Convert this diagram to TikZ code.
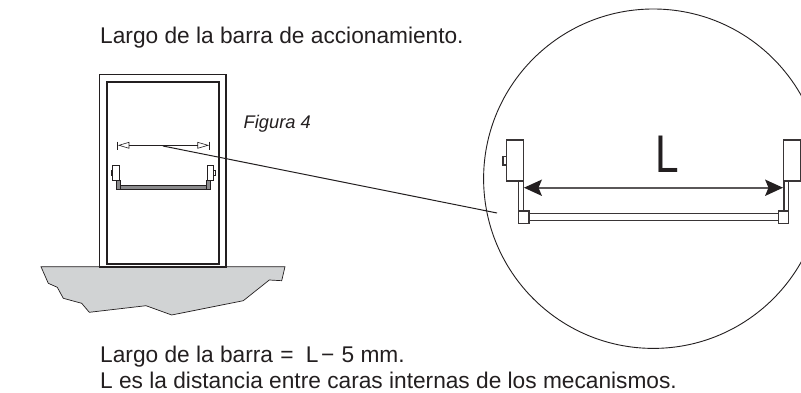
\documentclass[tikz,border=0pt]{standalone}
\usepackage{fontspec}
\setmainfont{Liberation Sans}
\definecolor{ink}{HTML}{231F20}
\definecolor{ground}{HTML}{D1D3D4}
\definecolor{barfill}{HTML}{8A8A8C}
\tikzset{
  txt/.style={anchor=base west,inner sep=0pt,text=ink,font=\fontsize{22.7}{26}\selectfont},
  part/.style={draw=ink!90,fill=white,line width=1.1pt},
  thin part/.style={draw=ink,fill=white,line width=.8pt},
  ln/.style={draw=ink,line width=.9pt}
}
\begin{document}
\begin{tikzpicture}[x=1pt,y=-1pt]
\useasboundingbox (0,0) rectangle (801,393);
\fill[white] (0,0) rectangle (801,393);
% texts
\node[txt] (title) at (100,43.3) {Largo de la barra de accionamiento.};
\node[txt,font=\fontsize{18.3}{21}\itshape\selectfont] (fig) at (243.5,128.3) {Figura 4};
\node[txt] (l1) at (100,362) {Largo de la barra\hspace{1pt} = \hspace{6pt}L\hspace{2.5pt}−\hspace{1pt} 5 mm.};
\node[txt] (l2) at (100,388.2) {L es la distancia entre caras internas de los mecanismos.};
% ground
\draw[ink,fill=ground,line width=.7pt] (41,266.7) -- (285,266.7) -- (281.7,280.7) -- (269.3,280) -- (243.3,300.7) -- (171.7,315) -- (146,305.7) -- (89.3,312.3) -- (81.7,303.3) -- (63.3,298.3) -- (57.3,287.3) -- (48.3,283.3) -- cycle;
% door
\draw[ink,fill=white,line width=1.2pt] (99.7,74.7) rectangle (226,267);
\draw[ink,fill=white,line width=1.2pt] (107,82) rectangle (219,264);
% small dimension
\draw[ln] (117.7,141.7) -- (117.7,150);
\draw[ln] (209,141.7) -- (209,150);
\draw[ln] (129,145.3) -- (197.7,145.3);
\draw[ink,line width=.6pt] (119,145.3) -- (129,142.3) -- (129,148.3) -- cycle;
\draw[ink,line width=.6pt] (208,145.3) -- (197.7,142.3) -- (197.7,148.3) -- cycle;
% small device
\draw[draw=ink,fill=barfill,line width=.8pt] (116.7,180) rectangle (120.7,189.3);
\draw[draw=ink,fill=barfill,line width=.8pt] (206,180) rectangle (210,189.3);
\draw[draw=ink,fill=barfill,line width=.8pt] (120.7,185.3) rectangle (206,189);
\draw[thin part] (111,170) rectangle (112.6,175);
\draw[thin part] (112.4,165) rectangle (119,180);
\draw[thin part] (213.6,170) rectangle (215,175);
\draw[thin part] (207.3,165) rectangle (213.7,180);
% circle
\begin{scope}
\clip (0,0) rectangle (801,393);
\draw[ink,line width=.9pt] (653.3,178.7) circle[radius=169.7];
\end{scope}
% leader
\coordinate (lstart) at (163,146);
\coordinate (lend) at (497,213);
\draw[ink,line width=1pt] (lstart) -- (lend);
% large device
\draw[part] (518.7,181) rectangle (523.3,223.3);
\draw[part] (784,181) rectangle (788.3,223.3);
\draw[part] (529,213.3) rectangle (778.3,220.7);
\draw[part] (518.3,211) rectangle (529,223.3);
\draw[part] (778.3,211) rectangle (788.3,223.3);
\draw[part] (503,156.3) rectangle (506.7,165);
\draw[part] (506.7,140) rectangle (523.7,181);
\draw[part] (783.3,140) rectangle (800.4,181);
% large dimension
\draw[draw=ink!75,line width=1.8pt] (535,187.7) -- (772,187.7);
\fill[ink] (524,187.7) -- (542,179.5) -- (538.5,187.7) -- (542,196) -- cycle;
\fill[ink] (783,187.7) -- (765,179.5) -- (768.5,187.7) -- (765,196) -- cycle;
\node[inner sep=0pt,anchor=base,text=ink,font=\fontsize{53}{53}\selectfont,xscale=.8,transform shape] (L) at (667,173) {L};
\end{tikzpicture}
\end{document}
